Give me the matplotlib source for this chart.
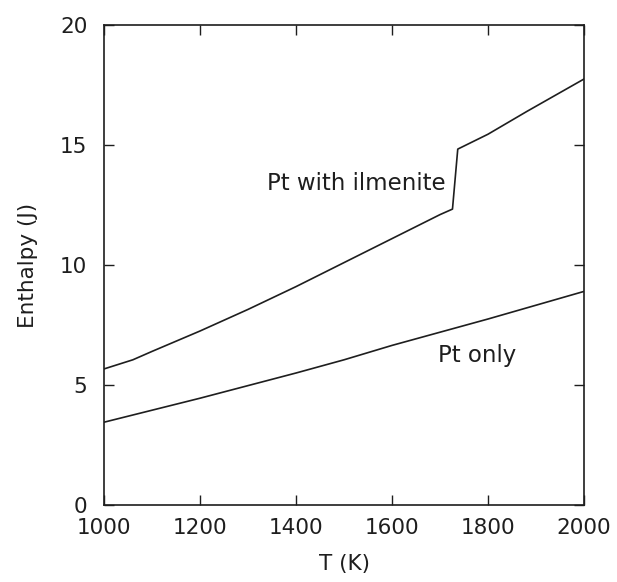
import matplotlib
matplotlib.use('Agg')
import matplotlib.pyplot as plt

# Pt only
t_pt = [1000, 1200, 1400, 1500, 1600, 1800, 2000]
h_pt = [3.45, 4.45, 5.5, 6.05, 6.65, 7.75, 8.9]

# Pt with ilmenite (jump near 1730-1740 K)
t_ilm = [1000, 1060, 1100, 1200, 1300, 1400, 1500, 1600, 1700, 1726, 1737, 1800, 1881, 2000]
h_ilm = [5.67, 6.05, 6.4, 7.25, 8.15, 9.1, 10.1, 11.1, 12.1, 12.33, 14.83, 15.45, 16.4, 17.75]

xticks = [1000, 1200, 1400, 1600, 1800, 2000]
yticks = [0, 5, 10, 15, 20]

ink = '#1e1e1e'
plt.rcParams['font.family'] = ['DejaVu Sans']

fig = plt.figure(figsize=(6.17, 5.82), dpi=100)
ax = fig.add_axes([0.1686, 0.1323, 0.7779, 0.8247])

ax.plot(t_pt, h_pt, color=ink, lw=1.2)
ax.plot(t_ilm, h_ilm, color=ink, lw=1.2)

ax.text(1712, 13.4, 'Pt with ilmenite', ha='right', va='center', fontsize=16.5, color=ink)
ax.text(1696, 6.25, 'Pt only', ha='left', va='center', fontsize=16.5, color=ink)

ax.set_xlim(1000, 2000)
ax.set_ylim(0, 20)
ax.set_xticks(xticks)
ax.set_yticks(yticks)
ax.tick_params(direction='in', length=7, width=1, top=True, right=True,
               labelsize=15.5, colors=ink)
ax.tick_params(axis='x', pad=9)
ax.tick_params(axis='y', pad=12)
for s in ax.spines.values():
    s.set_linewidth(1.2)
    s.set_color(ink)

ax.set_xlabel('T (K)', fontsize=15.5, color=ink, labelpad=12)
ax.set_ylabel('Enthalpy (J)', fontsize=15.5, color=ink, labelpad=16)

fig.savefig('out.png', dpi=100)
